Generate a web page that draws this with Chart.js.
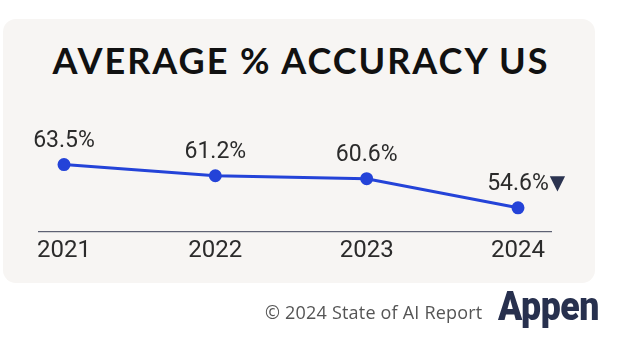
<!DOCTYPE html>
<html>
<head>
<meta charset="utf-8">
<script src="https://cdn.jsdelivr.net/npm/chart.js@4/dist/chart.umd.min.js"></script>
<style>
  body { margin: 0; background: #fff; width: 627px; height: 359px; overflow: hidden; position: relative; }
  #card { position: absolute; left: 3px; top: 19px; width: 592px; height: 264px; border-radius: 13px; background: #f7f5f3; }
  #title { position: absolute; left: 5px; width: 592px; top: 40px; text-align: center;
    font: 700 36px "Lato", sans-serif; letter-spacing: 2px; color: #111; line-height: 40px; }
  #wrap { position: absolute; left: 0; top: 0; width: 627px; height: 359px; }
  #footer { position: absolute; left: 265px; top: 300px; font: 400 18px "Open Sans", sans-serif; color: #555; letter-spacing: 0.2px; }
  #logo { position: absolute; left: 498px; top: 282px; font: 900 41px "Roboto", sans-serif; color: #27304e;
    transform: scaleX(0.87); transform-origin: left top; letter-spacing: -0.5px; }
</style>
</head>
<body>
<div id="card"></div>
<div id="title">AVERAGE % ACCURACY US</div>
<div id="wrap"><canvas id="grafico" width="627" height="359"></canvas></div>
<div id="footer">© 2024 State of AI Report</div>
<div id="logo">Appen</div>
<script>
// dados do grafico
const years = ["2021", "2022", "2023", "2024"];
const accuracy = [63.5, 61.2, 60.6, 54.6];
const trendMarks = ["", "", "", "▼"];

// linha do eixo x, um pouco mais larga que a area do grafico
const axisLine = {
  id: "axisLine",
  beforeDatasetsDraw(chart) {
    const { ctx, chartArea } = chart;
    ctx.save();
    ctx.strokeStyle = "#3a3f55";
    ctx.lineWidth = 1;
    ctx.beginPath();
    ctx.moveTo(chartArea.left - 26, chartArea.bottom + 1.5);
    ctx.lineTo(chartArea.right + 34, chartArea.bottom + 1.5);
    ctx.stroke();
    ctx.restore();
  },
};

// rotulos de valor em cima dos pontos
const valueLabels = {
  id: "valueLabels",
  afterDatasetsDraw(chart) {
    const { ctx } = chart;
    const meta = chart.getDatasetMeta(0);
    ctx.save();
    meta.data.forEach((pt, i) => {
      const text = accuracy[i].toFixed(1) + "%";
      ctx.font = '400 23px "Roboto", sans-serif';
      ctx.fillStyle = "#2b2b2b";
      ctx.textAlign = "center";
      ctx.textBaseline = "alphabetic";
      const y = pt.y - 18;
      ctx.fillText(text, pt.x, y);
      if (trendMarks[i]) {
        const w = ctx.measureText(text).width;
        ctx.font = '20px "DejaVu Sans", sans-serif';
        ctx.fillStyle = "#2b3350";
        ctx.textAlign = "left";
        ctx.fillText(trendMarks[i], pt.x + w / 2 + 1, y - 1);
      }
    });
    ctx.restore();
  },
};

let chart = new Chart(document.getElementById("grafico"), {
  type: "line",
  data: {
    labels: years,
    datasets: [
      {
        data: accuracy,
        borderColor: "#2443d8",
        backgroundColor: "#2443d8",
        borderWidth: 3,
        pointRadius: 5,
        pointHoverRadius: 5,
        tension: 0,
      },
    ],
  },
  options: {
    responsive: false,
    animation: false,
    devicePixelRatio: 1,
    layout: {
      padding: { left: 64, right: 109, top: 133, bottom: 88 },
    },
    plugins: {
      legend: { display: false },
      tooltip: { enabled: false },
    },
    scales: {
      x: {
        offset: false,
        border: { display: false },
        grid: { display: false, drawTicks: false },
        ticks: {
          color: "#2b2b2b",
          padding: 6,
          font: { family: "Roboto", size: 24, weight: "400" },
        },
      },
      y: {
        display: false,
        min: 50,
        max: 70,
      },
    },
  },
  plugins: [axisLine, valueLabels],
});
</script>
</body>
</html>
